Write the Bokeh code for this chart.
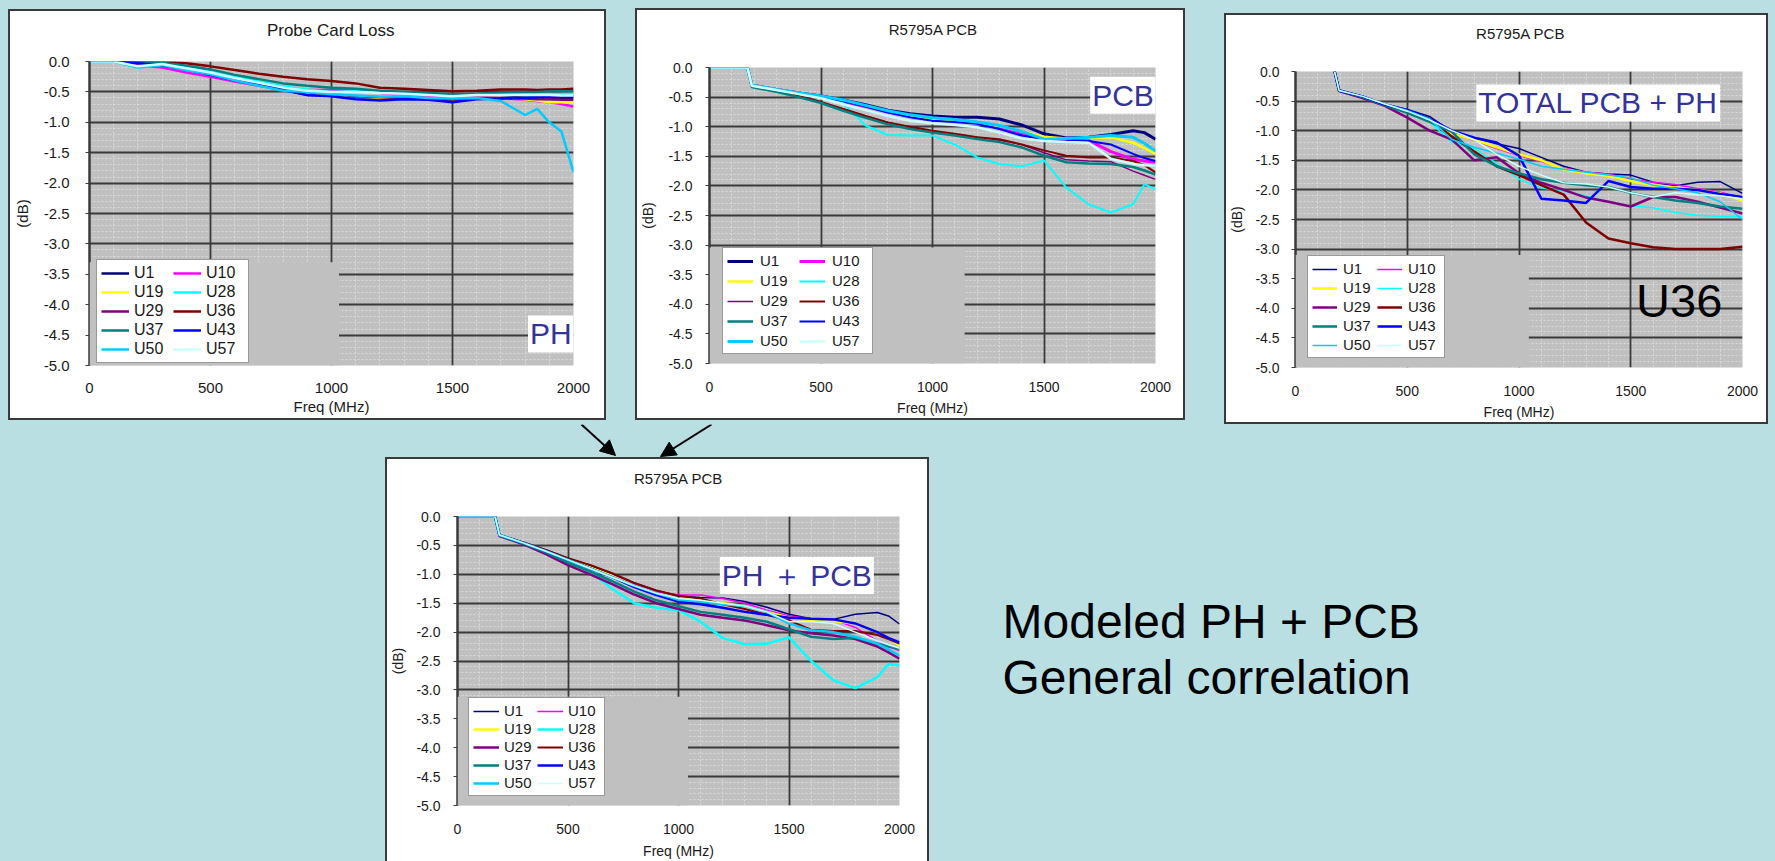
from bokeh.plotting import figure
from bokeh.models import (Legend, LegendItem, BoxAnnotation, Label, Arrow, NormalHead,
                          FixedTicker, NumeralTickFormatter, Spacer, Range1d, Grid)
from bokeh.layouts import row, column
from bokeh.embed import file_html
from bokeh.resources import INLINE

# ---------------------------------------------------------------- data
SERIES = ["U1", "U10", "U19", "U28", "U29", "U36", "U37", "U43", "U50", "U57"]
SERIES_COLORS = ["#000080", "#ff00ff", "#ffff00", "#00ffff", "#800080",
                 "#800000", "#008080", "#0000ff", "#00ccff", "#ccffff"]
LEGEND_ORDER = ["U1", "U19", "U29", "U37", "U50", "U10", "U28", "U36", "U43", "U57"]

X_TICKS = [0, 500, 1000, 1500, 2000]
Y_TICKS = [0.0, -0.5, -1.0, -1.5, -2.0, -2.5, -3.0, -3.5, -4.0, -4.5, -5.0]

# Panel 1: Probe Card Loss (PH)
FREQ_PH = [0, 100, 200, 300, 400, 500, 600, 700, 800, 900, 1000, 1100, 1200,
           1300, 1400, 1500, 1600, 1700, 1800, 1850, 1900, 1950, 2000]
PH_U1 = [0, 0, -0.02, -0.05, -0.13, -0.22, -0.3, -0.38, -0.46, -0.55, -0.56, -0.58, -0.6,
         -0.6, -0.61, -0.64, -0.61, -0.6, -0.58, -0.59, -0.6, -0.61, -0.6]
PH_U10 = [0, 0, -0.06, -0.1, -0.18, -0.25, -0.33, -0.4, -0.45, -0.47, -0.47, -0.48, -0.52,
          -0.55, -0.57, -0.6, -0.58, -0.6, -0.63, -0.65, -0.67, -0.7, -0.74]
PH_U19 = [0, 0, -0.03, -0.06, -0.13, -0.21, -0.3, -0.38, -0.45, -0.52, -0.55, -0.57, -0.6,
          -0.6, -0.6, -0.62, -0.6, -0.6, -0.62, -0.64, -0.67, -0.67, -0.68]
PH_U28 = [0, 0, -0.02, -0.03, -0.1, -0.17, -0.25, -0.33, -0.41, -0.46, -0.5, -0.49, -0.5,
          -0.52, -0.54, -0.56, -0.55, -0.54, -0.55, -0.55, -0.54, -0.54, -0.53]
PH_U29 = [0, 0, -0.03, -0.06, -0.13, -0.21, -0.3, -0.38, -0.45, -0.5, -0.54, -0.57, -0.59,
          -0.6, -0.6, -0.62, -0.6, -0.6, -0.61, -0.62, -0.62, -0.63, -0.63]
PH_U36 = [0, 0, 0, 0, -0.03, -0.08, -0.14, -0.2, -0.25, -0.29, -0.32, -0.36, -0.43,
          -0.45, -0.47, -0.49, -0.48, -0.46, -0.46, -0.47, -0.46, -0.46, -0.45]
PH_U37 = [0, 0, -0.01, -0.02, -0.07, -0.13, -0.22, -0.29, -0.36, -0.4, -0.43, -0.45, -0.48,
          -0.5, -0.52, -0.54, -0.53, -0.51, -0.5, -0.5, -0.49, -0.49, -0.49]
PH_U43 = [0, 0, -0.03, -0.06, -0.13, -0.22, -0.31, -0.39, -0.47, -0.55, -0.57, -0.62, -0.64,
          -0.62, -0.63, -0.67, -0.62, -0.61, -0.6, -0.59, -0.58, -0.58, -0.57]
PH_U50 = [0, 0, -0.1, -0.06, -0.14, -0.21, -0.31, -0.4, -0.48, -0.5, -0.54, -0.56, -0.58,
          -0.57, -0.6, -0.61, -0.6, -0.65, -0.88, -0.78, -1.0, -1.15, -1.82]
PH_U57 = [0, 0, -0.08, -0.04, -0.11, -0.18, -0.27, -0.35, -0.43, -0.48, -0.5, -0.5, -0.52,
          -0.53, -0.55, -0.57, -0.55, -0.55, -0.55, -0.55, -0.55, -0.56, -0.56]

# Panel 2: R5795A PCB (PCB only)
FREQ_PCB = [0, 170, 190, 300, 400, 500, 600, 700, 800, 900, 1000, 1100, 1200,
            1300, 1400, 1500, 1600, 1700, 1800, 1900, 1950, 2000]
PCB_U1 = [0, 0, -0.3, -0.37, -0.43, -0.48, -0.55, -0.63, -0.72, -0.78, -0.82, -0.84, -0.84,
          -0.87, -0.97, -1.12, -1.19, -1.18, -1.13, -1.07, -1.1, -1.21]
PCB_U10 = [0, 0, -0.3, -0.37, -0.43, -0.5, -0.58, -0.66, -0.75, -0.82, -0.86, -0.88, -0.93,
           -1.0, -1.12, -1.22, -1.22, -1.23, -1.42, -1.55, -1.58, -1.6]
PCB_U19 = [0, 0, -0.3, -0.37, -0.43, -0.49, -0.56, -0.65, -0.74, -0.82, -0.87, -0.9, -0.93,
           -0.99, -1.08, -1.17, -1.2, -1.19, -1.18, -1.27, -1.36, -1.46]
PCB_U28 = [0, 0, -0.3, -0.38, -0.44, -0.5, -0.6, -0.98, -1.14, -1.15, -1.15, -1.3, -1.52,
           -1.63, -1.67, -1.57, -2.03, -2.31, -2.45, -2.31, -1.97, -2.06]
PCB_U29 = [0, 0, -0.32, -0.4, -0.49, -0.59, -0.7, -0.82, -0.93, -1.02, -1.1, -1.14, -1.18,
           -1.23, -1.3, -1.44, -1.56, -1.58, -1.59, -1.75, -1.82, -1.89]
PCB_U36 = [0, 0, -0.32, -0.4, -0.48, -0.58, -0.7, -0.82, -0.93, -1.0, -1.07, -1.12, -1.18,
           -1.21, -1.3, -1.4, -1.49, -1.52, -1.52, -1.58, -1.65, -1.77]
PCB_U37 = [0, 0, -0.33, -0.41, -0.5, -0.6, -0.73, -0.85, -0.96, -1.04, -1.1, -1.15, -1.21,
           -1.26, -1.35, -1.49, -1.6, -1.62, -1.63, -1.68, -1.74, -1.81]
PCB_U43 = [0, 0, -0.3, -0.37, -0.43, -0.49, -0.57, -0.66, -0.76, -0.84, -0.9, -0.92, -0.95,
           -1.04, -1.15, -1.21, -1.22, -1.24, -1.3, -1.46, -1.53, -1.58]
PCB_U50 = [0, 0, -0.3, -0.37, -0.43, -0.48, -0.55, -0.64, -0.73, -0.8, -0.85, -0.88, -0.92,
           -0.98, -1.08, -1.21, -1.2, -1.18, -1.15, -1.18, -1.28, -1.41]
PCB_U57 = [0, 0, -0.31, -0.38, -0.45, -0.52, -0.62, -0.72, -0.82, -0.9, -0.94, -0.97, -1.01,
           -1.1, -1.2, -1.24, -1.26, -1.27, -1.54, -1.63, -1.65, -1.66]

# Panel 3: R5795A PCB (measured total PCB + PH)
FREQ_TOTAL = [175, 195, 300, 400, 500, 600, 700, 800, 900, 1000, 1100, 1200,
              1300, 1400, 1500, 1600, 1700, 1800, 1900, 2000]
TOTAL_U1 = [0, -0.32, -0.42, -0.55, -0.64, -0.76, -1.02, -1.12, -1.22, -1.3, -1.45, -1.6,
            -1.7, -1.73, -1.75, -1.87, -1.93, -1.87, -1.86, -2.06]
TOTAL_U10 = [0, -0.32, -0.43, -0.56, -0.66, -0.8, -1.05, -1.16, -1.3, -1.42, -1.52, -1.63,
             -1.7, -1.73, -1.82, -1.87, -1.91, -1.98, -2.04, -2.13]
TOTAL_U19 = [0, -0.32, -0.43, -0.56, -0.66, -0.8, -1.05, -1.15, -1.28, -1.4, -1.5, -1.65,
             -1.72, -1.76, -1.85, -1.92, -1.96, -2.0, -2.06, -2.18]
TOTAL_U28 = [0, -0.32, -0.42, -0.56, -0.68, -0.85, -1.2, -1.3, -1.55, -1.82, -1.97, -2.02,
             -2.1, -2.2, -2.27, -2.3, -2.38, -2.43, -2.45, -2.45]
TOTAL_U29 = [0, -0.33, -0.45, -0.58, -0.78, -1.0, -1.15, -1.5, -1.45, -1.72, -1.88, -2.0,
             -2.13, -2.2, -2.28, -2.12, -2.12, -2.2, -2.3, -2.4]
TOTAL_U36 = [0, -0.32, -0.43, -0.57, -0.68, -0.8, -1.1, -1.35, -1.6, -1.75, -1.92, -2.08,
             -2.55, -2.82, -2.9, -2.97, -3.0, -3.0, -3.0, -2.96]
TOTAL_U37 = [0, -0.32, -0.43, -0.57, -0.7, -0.85, -1.02, -1.4, -1.6, -1.72, -1.82, -1.88,
             -1.92, -1.95, -2.05, -2.12, -2.18, -2.22, -2.28, -2.32]
TOTAL_U43 = [0, -0.32, -0.42, -0.56, -0.65, -0.8, -1.0, -1.12, -1.2, -1.42, -2.15, -2.18,
             -2.22, -1.85, -1.95, -1.98, -1.98, -2.0, -2.07, -2.12]
TOTAL_U50 = [0, -0.32, -0.42, -0.55, -0.66, -0.8, -1.15, -1.28, -1.38, -1.48, -1.6, -1.65,
             -1.7, -1.75, -1.8, -1.92, -1.98, -2.05, -2.2, -2.5]
TOTAL_U57 = [0, -0.32, -0.42, -0.55, -0.67, -0.82, -1.0, -1.15, -1.4, -1.6, -1.75, -1.88,
             -1.9, -1.95, -2.05, -2.12, -2.05, -2.08, -2.1, -2.15]

# Panel 4: R5795A PCB (modeled PH + PCB)
FREQ_MODEL = [0, 170, 190, 300, 400, 500, 600, 700, 800, 900, 1000, 1100, 1200,
              1300, 1400, 1500, 1600, 1700, 1800, 1900, 1950, 2000]
MODEL_U1 = [0, 0, -0.32, -0.45, -0.58, -0.72, -0.85, -1.0, -1.15, -1.28, -1.38, -1.4, -1.41,
            -1.47, -1.57, -1.69, -1.77, -1.78, -1.69, -1.66, -1.72, -1.86]
MODEL_U10 = [0, 0, -0.32, -0.47, -0.6, -0.74, -0.88, -1.02, -1.17, -1.3, -1.36, -1.36, -1.42,
             -1.5, -1.62, -1.72, -1.77, -1.78, -1.92, -2.15, -2.25, -2.32]
MODEL_U19 = [0, 0, -0.32, -0.46, -0.6, -0.74, -0.88, -1.03, -1.2, -1.33, -1.43, -1.45, -1.5,
             -1.55, -1.65, -1.75, -1.79, -1.81, -1.85, -2.0, -2.1, -2.23]
MODEL_U28 = [0, 0, -0.32, -0.46, -0.6, -0.77, -0.95, -1.25, -1.5, -1.58, -1.62, -1.82, -2.1,
             -2.21, -2.2, -2.09, -2.5, -2.83, -2.97, -2.78, -2.55, -2.58]
MODEL_U29 = [0, 0, -0.34, -0.48, -0.65, -0.84, -1.0, -1.17, -1.35, -1.5, -1.6, -1.7, -1.75,
             -1.8, -1.88, -1.97, -2.02, -2.06, -2.12, -2.25, -2.35, -2.46]
MODEL_U36 = [0, 0, -0.32, -0.45, -0.58, -0.72, -0.84, -0.98, -1.15, -1.28, -1.37, -1.42, -1.52,
             -1.6, -1.7, -1.8, -1.96, -1.98, -1.98, -2.05, -2.12, -2.2]
MODEL_U37 = [0, 0, -0.33, -0.47, -0.62, -0.8, -0.95, -1.12, -1.3, -1.45, -1.55, -1.65, -1.7,
             -1.75, -1.82, -1.95, -2.08, -2.12, -2.1, -2.2, -2.25, -2.29]
MODEL_U43 = [0, 0, -0.32, -0.46, -0.6, -0.75, -0.9, -1.05, -1.22, -1.36, -1.47, -1.52, -1.58,
             -1.65, -1.7, -1.75, -1.77, -1.78, -1.85, -2.0, -2.1, -2.18]
MODEL_U50 = [0, 0, -0.32, -0.46, -0.6, -0.75, -0.9, -1.05, -1.2, -1.33, -1.44, -1.47, -1.52,
             -1.55, -1.65, -1.85, -1.97, -2.0, -2.08, -2.2, -2.3, -2.41]
MODEL_U57 = [0, 0, -0.32, -0.46, -0.6, -0.75, -0.9, -1.05, -1.2, -1.33, -1.42, -1.45, -1.5,
             -1.55, -1.65, -1.82, -1.82, -1.85, -2.0, -2.15, -2.22, -2.28]

CAPTION = ["Modeled PH + PCB", "General correlation"]

# ---------------------------------------------------------------- style
BG = "#b9dfe3"
PLOT_GRAY = "#c0c0c0"
GRID_DARK = "#3a3a3a"
GRID_MINOR = "#dadada"
BORDER = "#3a3a3a"
TEXT = "#1a1a1a"
NOTE_BLUE = "#333399"
FONT = "Liberation Sans"
B = 2           # panel border width
CHART_TOP = 14  # gap between title strip and plot frame

# minor grid positions, leaving out the major tick positions
X_MINOR = [v for v in range(0, 2001, 100) if v % 500 != 0]
Y_MINOR = [round(-0.1 * i, 1) for i in range(0, 51) if i % 5 != 0]

# w/h: outer panel size incl. border; ml..mb: distance from panel edge to plot frame;
# title_rel: title centre relative to the panel's top-left corner
PANELS = [
    dict(title="Probe Card Loss", w=598, h=411, ml=76, mr=33, mt=52, mb=55, bottom_border=True,
         title_fs="17px", title_rel=(298, 20.5),
         tick_fs="15px", axis_fs="15px", y_std=16, x_std=13, xl_std=2, yl_std=10,
         leg_loc=(7, 2), leg_fs="16px", leg_gw=28, leg_so=5, leg_lw=38, leg_sp=1, leg_pad=4,
         cover=(1031, -3.3), lw=[2.5] * 10,
         notes=[("PH", 1812, -4.48, "30px", NOTE_BLUE, True)],
         freq=FREQ_PH,
         vals=[PH_U1, PH_U10, PH_U19, PH_U28, PH_U29, PH_U36, PH_U37, PH_U43, PH_U50, PH_U57]),
    dict(title="R5795A PCB", w=550, h=412, ml=69, mr=30, mt=59, mb=57, bottom_border=True,
         title_fs="15px", title_rel=(276, 21),
         tick_fs="14px", axis_fs="14px", y_std=13, x_std=14, xl_std=5, yl_std=9,
         leg_loc=(13, 9), leg_fs="15px", leg_gw=26, leg_so=7, leg_lw=36, leg_sp=3, leg_pad=4,
         cover=(1144, -3.04), lw=[3, 3, 2.5, 2, 1.5, 2, 2.5, 2, 3, 2.5],
         notes=[("PCB", 1707, -0.47, "30px", NOTE_BLUE, True)],
         freq=FREQ_PCB,
         vals=[PCB_U1, PCB_U10, PCB_U19, PCB_U28, PCB_U29, PCB_U36, PCB_U37, PCB_U43, PCB_U50, PCB_U57]),
    dict(title="R5795A PCB", w=544, h=411, ml=68, mr=26, mt=58, mb=57, bottom_border=True,
         title_fs="15px", title_rel=(274, 20),
         tick_fs="14px", axis_fs="14px", y_std=12, x_std=14, xl_std=5, yl_std=7,
         leg_loc=(12, 9), leg_fs="15px", leg_gw=25, leg_so=6, leg_lw=32, leg_sp=2, leg_pad=4,
         cover=(1044, -3.1), lw=[1.5, 1.5, 2.5, 1.5, 2.5, 2.5, 2.5, 2.5, 1.5, 1.5],
         notes=[("TOTAL PCB + PH", 809, -0.53, "30px", NOTE_BLUE, True),
                ("U36", 1524, -3.87, "47px", "black", False)],
         freq=FREQ_TOTAL,
         vals=[TOTAL_U1, TOTAL_U10, TOTAL_U19, TOTAL_U28, TOTAL_U29, TOTAL_U36, TOTAL_U37,
               TOTAL_U43, TOTAL_U50, TOTAL_U57]),
    dict(title="R5795A PCB", w=544, h=404, ml=69, mr=30, mt=59, mb=53, bottom_border=False,
         title_fs="15px", title_rel=(272, 21),
         tick_fs="14px", axis_fs="14px", y_std=13, x_std=14, xl_std=6, yl_std=7,
         leg_loc=(11, 9), leg_fs="15px", leg_gw=26, leg_so=5, leg_lw=32, leg_sp=1, leg_pad=4,
         cover=(1043, -3.12), lw=[1.5, 1.5, 2.5, 2.5, 2.5, 2, 2.5, 2.5, 2.5, 1.5],
         notes=[("PH \uff0b PCB", 1187, -1.02, "30px", NOTE_BLUE, True)],
         freq=FREQ_MODEL,
         vals=[MODEL_U1, MODEL_U10, MODEL_U19, MODEL_U28, MODEL_U29, MODEL_U36, MODEL_U37,
               MODEL_U43, MODEL_U50, MODEL_U57]),
]


def blank_figure(width, height, fill):
    f = figure(width=width, height=height, x_range=Range1d(0, width), y_range=Range1d(0, height),
               output_backend="svg", toolbar_location=None, min_border=0,
               x_axis_type=None, y_axis_type=None,
               background_fill_color=fill, border_fill_color=fill, outline_line_color=None)
    f.grid.visible = False
    return f


def build_panel(cfg):
    inner_w = cfg["w"] - 2 * B
    inner_h = cfg["h"] - B - (B if cfg["bottom_border"] else 0)
    title_h = cfg["mt"] - B - CHART_TOP
    chart_h = inner_h - title_h

    # title strip
    tf = blank_figure(inner_w, title_h, "white")
    tx, ty = cfg["title_rel"]
    tf.add_layout(Label(x=tx - B, y=title_h - (ty - B), text=cfg["title"], text_font=FONT,
                        text_font_size=cfg["title_fs"], text_color=TEXT,
                        text_align="center", text_baseline="middle"))

    p = figure(width=inner_w, height=chart_h,
               x_range=Range1d(0, 2000), y_range=Range1d(-5, 0),
               output_backend="svg", toolbar_location=None,
               min_border_left=cfg["ml"] - B, min_border_right=cfg["mr"] - B,
               min_border_top=CHART_TOP,
               min_border_bottom=cfg["mb"] - (B if cfg["bottom_border"] else 0),
               background_fill_color=PLOT_GRAY, border_fill_color="white",
               outline_line_color=None)

    xa = p.xaxis[0]
    ya = p.yaxis[0]
    xa.ticker = FixedTicker(ticks=X_TICKS, minor_ticks=X_MINOR)
    ya.ticker = FixedTicker(ticks=Y_TICKS, minor_ticks=Y_MINOR)
    xa.formatter = NumeralTickFormatter(format="0")
    ya.formatter = NumeralTickFormatter(format="0.0")

    for ax in (xa, ya):
        ax.major_label_text_font = FONT
        ax.major_label_text_font_size = cfg["tick_fs"]
        ax.major_label_text_color = TEXT
        ax.axis_label_text_font = FONT
        ax.axis_label_text_font_size = cfg["axis_fs"]
        ax.axis_label_text_font_style = "normal"
        ax.axis_label_text_color = TEXT
        ax.minor_tick_line_color = None
    xa.axis_label = "Freq (MHz)"
    xa.axis_line_color = None
    xa.major_tick_line_color = None
    xa.major_tick_out = 0
    xa.major_label_standoff = cfg["x_std"]
    xa.axis_label_standoff = cfg["xl_std"]
    ya.axis_label = "(dB)"
    ya.axis_line_color = GRID_DARK
    ya.axis_line_width = 2.5
    ya.major_tick_line_color = GRID_DARK
    ya.major_tick_out = 4
    ya.major_tick_in = 0
    ya.major_label_standoff = cfg["y_std"]
    ya.axis_label_standoff = cfg["yl_std"]

    # built-in grids draw only the light minor lines; extra grids on top draw the dark majors
    for g, tk in ((p.xgrid[0], xa.ticker), (p.ygrid[0], ya.ticker)):
        g.ticker = tk
        g.grid_line_color = None
        g.minor_grid_line_color = GRID_MINOR
        g.minor_grid_line_dash = "2 2"
        g.minor_grid_line_width = 1
    for dim, tk in ((0, xa.ticker), (1, ya.ticker)):
        p.add_layout(Grid(dimension=dim, ticker=tk, grid_line_color=GRID_DARK,
                          grid_line_width=1.8, minor_grid_line_color=None))

    renderers = {}
    for name, color, vals, lw in zip(SERIES, SERIES_COLORS, cfg["vals"], cfg["lw"]):
        renderers[name] = p.line(cfg["freq"], vals, line_color=color, line_width=lw)

    cr, ct = cfg["cover"]
    p.add_layout(BoxAnnotation(left=0, right=cr, bottom=-5, top=ct,
                               fill_color=PLOT_GRAY, fill_alpha=1, line_alpha=0))

    items = [LegendItem(label=n, renderers=[renderers[n]]) for n in LEGEND_ORDER]
    leg = Legend(items=items, location=cfg["leg_loc"], ncols=2, margin=0,
                 padding=cfg["leg_pad"], spacing=cfg["leg_sp"],
                 glyph_width=cfg["leg_gw"], glyph_height=14,
                 label_standoff=cfg["leg_so"], label_width=cfg["leg_lw"], label_height=14,
                 label_text_font=FONT, label_text_font_size=cfg["leg_fs"],
                 label_text_color=TEXT,
                 border_line_color="#333333", border_line_width=1.5,
                 background_fill_color="white", background_fill_alpha=1)
    p.add_layout(leg)

    for text, x, y, size, color, boxed in cfg["notes"]:
        lab = Label(x=x, y=y, text=text, text_font=FONT, text_font_size=size,
                    text_color=color, text_align="left", text_baseline="middle")
        if boxed:
            lab.background_fill_color = "white"
            lab.background_fill_alpha = 1
            lab.padding = 2
        p.add_layout(lab)

    dark = {"background-color": BORDER}
    inner = row(Spacer(width=B, height=inner_h, styles=dark),
                column(tf, p, styles={"background-color": "white"}),
                Spacer(width=B, height=inner_h, styles=dark))
    parts = [Spacer(width=cfg["w"], height=B, styles=dark), inner]
    if cfg["bottom_border"]:
        parts.append(Spacer(width=cfg["w"], height=B, styles=dark))
    return column(*parts)


f1, f2, f3, f4 = [build_panel(c) for c in PANELS]

# gap strip with the two arrows pointing to the modeled chart (y measured from strip bottom)
gap = blank_figure(1775, 33, BG)
for xs, ys, xe, ye in [(581, 33, 615, 2), (711, 33, 660, 1)]:
    gap.add_layout(Arrow(x_start=xs, y_start=ys, x_end=xe, y_end=ye,
                         line_color="black", line_width=2,
                         end=NormalHead(size=15, fill_color="black", line_color="black")))

# caption area
txt = blank_figure(846, 404, BG)
for line_text, centre in zip(CAPTION, [163.5, 220]):
    txt.add_layout(Label(x=73, y=404 - centre, text=line_text, text_font=FONT,
                         text_font_size="48px", text_color="black",
                         text_align="left", text_baseline="middle"))

top = row(Spacer(width=8, height=424),
          column(Spacer(width=598, height=9), f1),
          Spacer(width=29, height=424),
          column(Spacer(width=550, height=8), f2),
          Spacer(width=39, height=424),
          column(Spacer(width=544, height=13), f3),
          Spacer(width=7, height=424))
bottom = row(Spacer(width=385, height=404), f4, txt)
page = column(top, gap, bottom, styles={"background-color": BG})

open("out.html", "w").write(file_html(page, INLINE, title="Probe card loss correlation"))
